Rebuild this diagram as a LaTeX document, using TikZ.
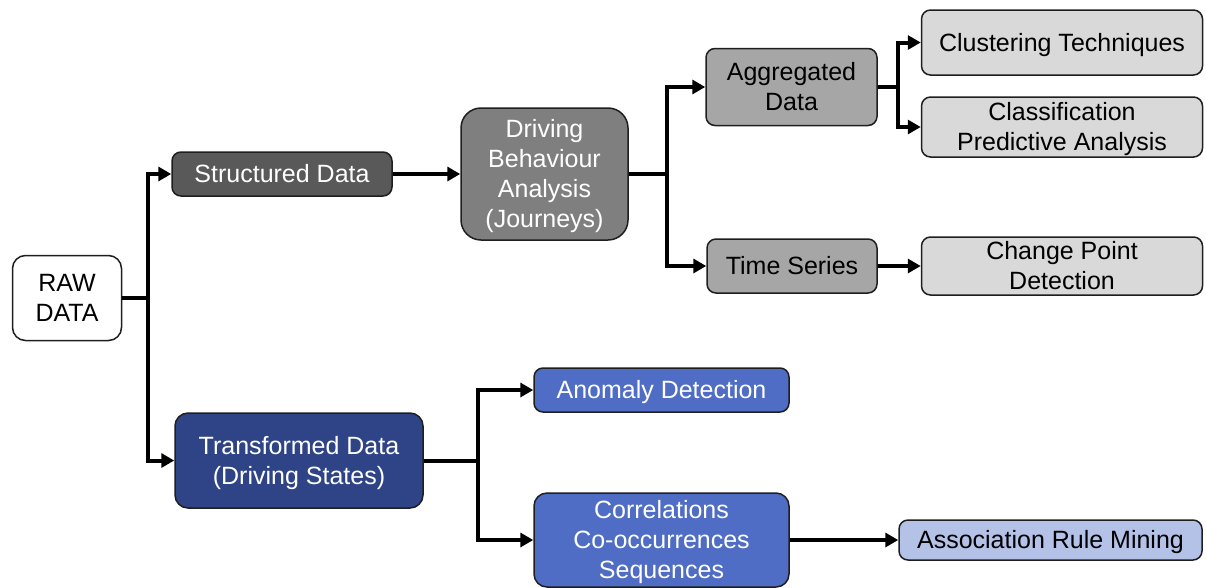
\documentclass[tikz,border=0pt]{standalone}
\usepackage{fontspec}
\setmainfont{Liberation Sans}
\usetikzlibrary{arrows.meta}
\definecolor{gA}{HTML}{595959}
\definecolor{gB}{HTML}{7F7F7F}
\definecolor{gC}{HTML}{A6A6A6}
\definecolor{gD}{HTML}{D9D9D9}
\definecolor{bA}{HTML}{2F4486}
\definecolor{bB}{HTML}{4F6DC5}
\definecolor{bC}{HTML}{B4C2E8}
\definecolor{edge}{HTML}{1E1E1E}
\newcommand\mystrutx{\rule[-5.3pt]{0pt}{27.9pt}}
\begin{document}
\begin{tikzpicture}[x=1pt,y=-1pt,
  box/.style={draw=edge, line width=1.5pt, rounded corners=9pt, inner sep=0pt,
    align=center, font=\fontsize{25}{30}\selectfont},
  conn/.style={line width=4pt, draw=black},
  arr/.style={conn, -{Triangle[length=13pt,width=14pt]}}]
\useasboundingbox (0,0) rectangle (1206,587);

% nodes
\node[box, fill=white, rounded corners=13pt, minimum width=109pt, minimum height=85pt] (raw) at (67,298) {\mystrutx RAW\\DATA\mystrutx};
\node[box, fill=gA, text=white, minimum width=220pt, minimum height=44pt] (struct) at (282,174) {\mystrutx Structured Data};
\node[box, fill=gB, text=white, rounded corners=20pt, minimum width=167pt, minimum height=132pt] (drv) at (544.5,174) {\mystrutx Driving\\Behaviour\\Analysis\\(Journeys)\mystrutx};
\node[box, fill=gC, minimum width=171pt, minimum height=77pt] (agg) at (791.5,87) {\mystrutx Aggregated\\Data\mystrutx};
\node[box, fill=gC, minimum width=170pt, minimum height=54pt] (ts) at (792,266) {\mystrutx Time Series};
\node[box, fill=gD, minimum width=281pt, minimum height=65pt] (clus) at (1062,42.5) {\mystrutx Clustering Techniques};
\node[box, fill=gD, minimum width=281pt, minimum height=60pt] (class) at (1062,127) {\mystrutx Classification\\Predictive Analysis\mystrutx};
\node[box, fill=gD, minimum width=281pt, minimum height=58pt] (cpd) at (1062,266) {\mystrutx Change Point\\Detection\mystrutx};
\node[box, fill=bA, text=white, rounded corners=13pt, minimum width=248pt, minimum height=95pt] (trans) at (299,460.5) {\mystrutx Transformed Data\\(Driving States)\mystrutx};
\node[box, fill=bB, text=white, minimum width=255pt, minimum height=44pt] (anom) at (661.5,390) {\mystrutx Anomaly Detection};
\node[box, fill=bB, text=white, rounded corners=13pt, minimum width=255pt, minimum height=94pt] (corr) at (661.5,540) {\mystrutx Correlations\\Co-occurrences\\Sequences\mystrutx};
\node[box, fill=bC, minimum width=303pt, minimum height=40pt] (assoc) at (1050.5,540) {\mystrutx Association Rule Mining};

% junctions
\coordinate (j1) at (148,298);
\coordinate (j2) at (667,174);
\coordinate (j3) at (898,87);
\coordinate (j4) at (478,460.5);

% connectors
\draw[conn] (raw.east) -- (j1);
\draw[arr] (j1) |- (struct.west);
\draw[arr] (j1) |- (trans.west);
\draw[arr] (struct.east) -- (drv.west);
\draw[conn] (drv.east) -- (j2);
\draw[arr] (j2) |- (agg.west);
\draw[arr] (j2) |- (ts.west);
\draw[conn] (agg.east) -- (j3);
\draw[arr] (j3) |- (clus.west);
\draw[arr] (j3) |- (class.west);
\draw[arr] (ts.east) -- (cpd.west);
\draw[conn] (trans.east) -- (j4);
\draw[arr] (j4) |- (anom.west);
\draw[arr] (j4) |- (corr.west);
\draw[arr] (corr.east) -- (assoc.west);
\end{tikzpicture}
\end{document}
